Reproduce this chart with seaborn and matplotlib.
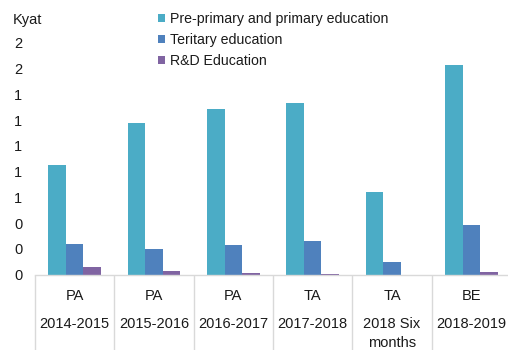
import matplotlib
matplotlib.use("Agg")
import matplotlib.pyplot as plt
import seaborn as sns
import pandas as pd
import numpy as np

# Budget allocation by education level (Kyat)
stages = ["PA", "PA", "PA", "TA", "TA", "BE"]
periods = ["2014-2015", "2015-2016", "2016-2017", "2017-2018", "2018 Six\nmonths", "2018-2019"]
primary = [0.85, 1.18, 1.29, 1.33, 0.64, 1.63]
tertiary = [0.24, 0.195, 0.23, 0.26, 0.097, 0.385]
rnd = [0.058, 0.031, 0.012, 0.006, 0.0, 0.023]
series_names = ["Pre-primary and primary education", "Teritary education", "R&D Education"]
colors = ["#4BACC6", "#4F81BD", "#8064A2"]
yticks = [0, 0.2, 0.4, 0.6, 0.8, 1.0, 1.2, 1.4, 1.6, 1.8]

sns.set_theme(style="white")
plt.rcParams["font.family"] = ["Liberation Sans", "DejaVu Sans"]
FS = 10.5
TXT = "#1a1a1a"

keys = [f"{i}" for i in range(len(periods))]
rows = []
for name, vals in zip(series_names, [primary, tertiary, rnd]):
    for k, v in zip(keys, vals):
        rows.append({"cat": k, "series": name, "value": v})
df = pd.DataFrame(rows)

fig = plt.figure(figsize=(5.08, 3.5), dpi=100)
ax = fig.add_axes([35 / 508, (350 - 274.5) / 350, 476 / 508, (274.5 - 43) / 350])

sns.barplot(data=df, x="cat", y="value", hue="series", order=keys,
            hue_order=series_names, palette=colors, width=0.66,
            linewidth=0, saturation=1, ax=ax, legend=True)

ax.set_xlim(-0.5, len(keys) - 0.5)
ax.set_ylim(0, 1.8)
ax.set_yticks(yticks)
ax.set_yticklabels([f"{v:.0f}" for v in yticks], fontsize=FS, color=TXT, ha="left")
ax.tick_params(axis="y", length=0, pad=15)
ax.set_xlabel("")
ax.set_ylabel("")

for s in ["top", "right", "left"]:
    ax.spines[s].set_visible(False)
ax.spines["bottom"].set_color("#D9D9D9")
ax.spines["bottom"].set_linewidth(1.0)

# multi-level category axis: stage labels as ticks, separators as long minor ticks
ax.set_xticks(range(len(keys)))
ax.set_xticklabels(stages, fontsize=FS, color=TXT)
ax.tick_params(axis="x", which="major", length=0, pad=10.5)
ax.set_xticks(np.arange(-0.5, len(keys), 1.0), minor=True)
ax.tick_params(axis="x", which="minor", length=56, width=1.0, color="#D9D9D9", bottom=True)

for i, p in enumerate(periods):
    ax.annotate(p, xy=(i, 0), xycoords=("data", "axes fraction"),
                xytext=(0, -42), textcoords="offset pixels",
                ha="center", va="top", fontsize=FS, color=TXT,
                linespacing=1.5, annotation_clip=False)

fig.text(13 / 508, 1 - 20 / 350, "Kyat", fontsize=FS, color=TXT, va="center", ha="left")

leg = ax.legend(loc="upper left", bbox_to_anchor=(152 / 508, 1 - 6 / 350),
                bbox_transform=fig.transFigure, frameon=False, fontsize=10.2,
                handlelength=0.5, handleheight=0.5, handletextpad=0.4,
                labelspacing=0.5, borderaxespad=0)
for t in leg.get_texts():
    t.set_color(TXT)

fig.savefig("out.png", dpi=100)
